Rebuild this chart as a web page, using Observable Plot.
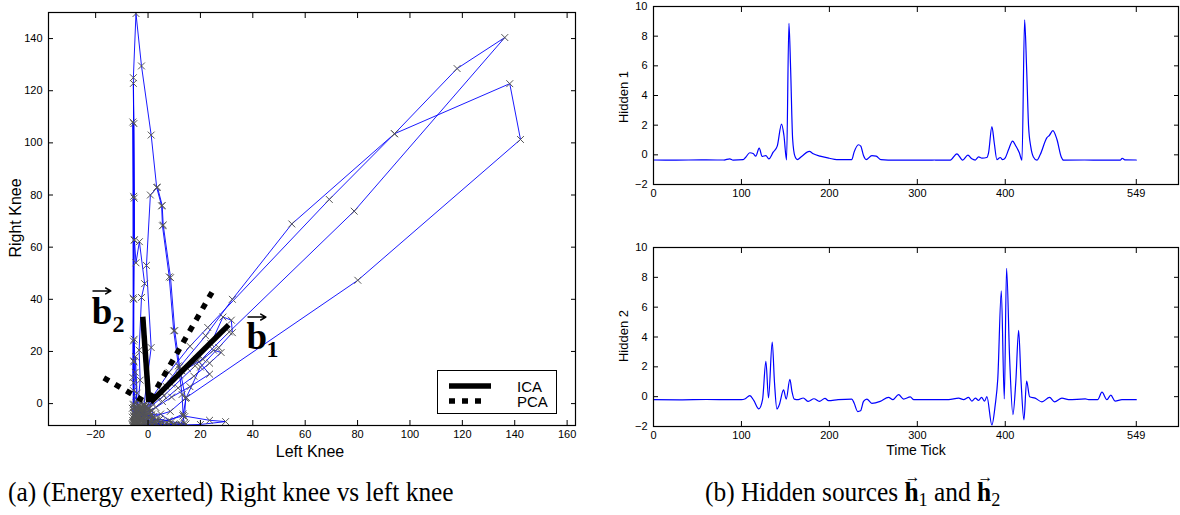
<!DOCTYPE html>
<html><head><meta charset="utf-8">
<script src="https://cdn.jsdelivr.net/npm/d3@7"></script>
<script src="https://cdn.jsdelivr.net/npm/@observablehq/plot@0.6"></script>
<style>
body{margin:0;background:#fff;}
#wrap{position:relative;width:1180px;height:515px;overflow:hidden;background:#fff;font-family:"Liberation Sans",Arial,sans-serif;color:#000;}
.abs{position:absolute;}
.lbl{position:absolute;white-space:nowrap;transform:translate(-50%,-50%);line-height:1;}
.rot{transform:translate(-50%,-50%) rotate(-90deg);}
.cap{position:absolute;font-family:"Liberation Serif","Times New Roman",serif;font-size:27px;white-space:nowrap;line-height:1;transform:scaleX(0.94);transform-origin:0 0;}
.vec{position:relative;font-weight:bold;}
.vec::before{content:"\2192";position:absolute;font-weight:normal;font-size:0.62em;left:0.02em;top:-0.5em;}
.cap sub{font-size:0.72em;vertical-align:-0.25em;line-height:0;}
</style></head>
<body><div id="wrap"></div>
<script>
// ---------- data: left panel (Left Knee, Right Knee) trajectory ----------
const restStart = [[-4.9,-7.9],[-5.2,-7.6],[-4.7,-8.1],[-5.4,-7.2],[-5.0,-6.8],[-5.6,-7.4],[-4.4,-7.7],[-5.1,-8.2],[-5.8,-6.5],[-4.6,-6.9],[-5.3,-5.9],[-3.9,-7.3]];
const restCluster = [[-6.0,-8.2],[-5.0,-8.3],[-4.0,-8.2],[-3.0,-8.1],[-2.0,-8.2],[-1.0,-8.0],[0.0,-8.1],[1.0,-8.2],[2.0,-8.0],[3.0,-8.3],[4.0,-8.1],
  [3.5,-6.3],[2.5,-6.8],[1.5,-6.5],[0.5,-6.9],[-0.5,-6.4],[-1.5,-6.8],[-2.5,-6.6],[-3.5,-6.9],[-4.5,-6.5],[-5.5,-6.8],
  [-6.0,-5.2],[-5.0,-4.9],[-4.0,-5.3],[-3.0,-4.8],[-2.0,-5.1],[-1.0,-4.7],[0.0,-5.0],[1.0,-4.6],[2.0,-5.2],
  [1.5,-2.7],[0.5,-3.0],[-0.5,-3.3],[-1.5,-2.9],[-2.5,-3.2],[-3.5,-3.5],[-4.5,-3.0],[-5.5,-3.4],
  [-6.0,-1.8],[-5.0,-1.5],[-4.0,-1.9],[-3.0,-1.4],[-2.0,-1.7],[-1.0,-1.3],[0.0,-1.6],
  [-1.5,-0.1],[-2.5,0.2],[-3.5,-0.4],[-4.5,0.3],[-5.5,-0.2],
  [-4.0,-3.8],[-2.2,-6.0],[0.8,-7.4],[5.0,-7.9],[6.5,-8.2],[8.0,-7.9],[11.0,-8.1],[12.5,-8.2],[14.5,-7.8],[9.0,-7.0],[4.5,-6.0],[-1.0,-7.5]];
const swing1 = [[-2.4,-5.6],[1.5,-4.2],[4.8,-4.0],[9.8,-7.9],[6.2,-8.0],[2.5,-7.4],[-1.2,-6.4],[-4.0,-4.8],[-5.5,-1.5],[-5.5,16.4],[-5.3,24.7],[-4.9,12.0],[-4.3,1.5],[-3.2,-3.5],[-1.0,-5.2]];
const swing2 = [[-3.5,-2.0],[-5.6,5.0],[-5.5,40.0],[-5.3,62.7],[-5.4,107.4],[-5.6,125.0],[-4.6,149.6],[-2.5,129.5],[1.2,103.0],[3.3,82.9],[5.2,75.8],[5.5,68.2],[8.1,48.6],[9.8,27.9],[11.6,14.5],[13.0,3.5],[13.4,-4.7],[13.8,-7.6],[9.5,-8.2],[5.0,-8.0],[1.0,-7.1],[-2.5,-6.0],[-4.3,-3.2]];
const swing3 = [[-5.6,-0.5],[-5.6,24.0],[-5.3,78.8],[-5.6,122.8],[-5.2,62.8],[-4.6,54.0],[-3.3,62.1],[-1.3,46.0],[-2.5,40.7],[-3.4,20.5],[-3.0,9.0],[-4.0,-2.0],[-2.2,-4.5]];
const swing4 = [[-1.6,-1.0],[1.2,21.5],[-0.6,53.0],[0.9,80.0],[3.6,83.0],[5.4,76.0],[5.8,68.5],[8.6,48.3],[10.2,28.0],[12.2,13.0],[14.3,2.0],[14.0,-5.0],[12.5,-7.8],[7.5,-7.8],[3.0,-6.2],[-0.5,-4.8],[-3.0,-6.5]];
const swing5 = [[-5.2,-4.0],[-5.8,10.0],[-5.7,40.5],[-5.8,108.0],[-5.5,79.5],[-5.4,16.0],[-5.1,-3.0]];
const loop1 = [[-2.0,-3.0],[3.5,2.0],[9.0,7.5],[15.0,13.5],[21.0,17.0],[25.0,20.5],[27.9,19.6],[23.5,15.5],[17.5,10.5],[11.5,6.0],[5.5,0.8],[0.5,-3.5],[-3.5,-5.5]];
const loop2 = [[-1.5,-2.0],[5.5,4.0],[12.0,11.0],[18.5,17.0],[24.0,23.0],[28.6,33.2],[31.8,32.0],[32.2,27.2],[27.0,21.5],[20.0,14.0],[14.6,2.3],[13.4,-4.0],[8.0,-6.5],[2.0,-6.0],[-2.8,-4.2]];
const loop3 = [[-0.8,-1.0],[7.0,6.5],[13.0,12.5],[19.0,16.5],[23.5,11.3],[16.0,6.5],[9.0,2.5],[3.0,-1.5],[-2.0,-3.8]];
const restMid = [[-4.5,-5.8],[-5.2,-6.6],[-4.8,-7.2],[-3.8,-6.0],[-5.5,-4.5],[-4.9,-3.0],[-3.3,-7.8],[-5.9,-7.9],[-5.5,8.0],[-4.8,18.0],[-4.2,4.0],[-5.0,-5.5]];
const loop4 = [[-1.0,-6.0],[5.0,-7.0],[13.4,-4.7],[23.5,-6.4],[29.6,-6.9],[20.0,-8.0],[10.0,-8.3],[3.0,-8.0],[-2.0,-7.5]];
const bigSwing1 = [[-1.0,-1.5],[8.0,12.0],[16.0,22.0],[22.8,29.2],[69.2,78.3],[94.1,103.5],[138.1,122.7],[142.2,101.3],[80.1,47.3],[14.6,2.3],[8.5,-3.0],[2.0,-5.0]];
const restLate = [[-3.0,-4.0],[-4.6,-2.2],[-5.4,-5.0],[-2.0,-1.0],[0.5,-2.0]];
const bigSwing2 = [[1.5,0.5],[12.0,14.0],[22.0,26.0],[32.2,40.0],[54.9,68.9],[94.1,103.5],[118.0,128.5],[136.2,140.4],[78.7,73.8],[31.0,27.5],[18.0,14.5],[6.0,3.0],[0.0,-2.0]];
const restEnd = [[-3.5,-4.5],[-4.8,-6.2],[-5.3,-7.0],[-4.6,-7.6],[-5.1,-8.0],[-4.2,-6.8],[-5.7,-7.3],[-4.9,-5.6],[-3.6,-7.0],[-5.0,-7.8],[-2.5,-2.5],[-1.2,-7.0],[0.5,-5.5],[-3.8,-1.0],[1.5,-7.8],[-2.8,-8.1]];

// principal directions (from origin), in data units
const icaVectors = [[0.3,0.5,-2.0,33.3],[1.0,0.5,30.8,30.2]];
const pcaVectors = [[1.0,1.8,24.7,43.2],[-2.0,1.2,-18.4,10.7]];
// vector labels: [x, y, letter, subscriptX, subscriptY, subscript, arrowX1, arrowX2, arrowY]
const vectorLabels = [[-21.5,30.6,"b",-13.6,27.6,"2",-21.0,-14.2,43.2],[37.6,20.8,"b",45.2,17.8,"1",38.2,45.0,33.2]];

const kneeXTicks = [-20,0,20,40,60,80,100,120,140,160];
const kneeYTicks = [0,20,40,60,80,100,120,140];

// ---------- data: hidden sources ----------
const tick1 = [0,20,40,60,80,86.7,90.5,101.9,104.9,109.5,113.3,116.3,120.2,123.6,127.8,131.2,136.1,140.7,145.6,148.3,151.3,154,155.9,158.2,160.8,163.5,168.4,177.2,181.7,189.4,200,208.4,225.5,228.1,233.1,235.7,238.8,241.8,248.3,253.2,258.6,275,300,320,337.5,345,351.5,357.5,362,365.9,369.7,373.5,379,381,384.8,387.5,390.5,394.3,397,400,403.8,408.3,412,416,419,422,424.3,426.5,429,432,436,439.8,447.4,450,454.2,458.7,463.7,466.3,490,510,531,533,536,549];
const hidden1 = [-0.35,-0.36,-0.35,-0.34,-0.35,-0.27,-0.35,-0.32,-0.16,0.14,0.09,-0.09,0.45,-0.11,-0.05,-0.27,0.18,0.59,2.07,1.32,-0.34,8.86,5.86,1.09,-0.09,-0.32,-0.11,0.23,0.07,-0.09,-0.23,-0.32,-0.32,0.18,0.68,0.59,-0.05,-0.32,-0.05,-0.09,-0.32,-0.36,-0.36,-0.35,-0.35,0.07,-0.35,-0.02,-0.27,-0.35,-0.14,-0.22,-0.18,0.14,1.9,0.8,-0.32,-0.18,-0.32,-0.2,0.36,0.93,0.6,0.14,-0.36,9.1,5.8,1.95,0.55,-0.14,-0.36,0.02,1.16,1.3,1.63,1.05,-0.14,-0.36,-0.35,-0.35,-0.35,-0.23,-0.34,-0.35];
const tick2 = [0,30,60,90,100,103.8,109.5,114,119.8,124,127.8,130.8,135,137.6,140.3,143,147.9,150.9,155.1,157.4,160,164.6,170.3,176,182.5,188.6,195,198.9,210,225.5,228.1,232.3,235.4,238.8,242.6,248.3,257.8,267.3,272.2,278.7,284.4,292,296,320,335.6,347,352.6,358.3,362,366,369.7,373,376.5,379.1,384.8,388.5,391.5,395.5,398.9,401.5,405,408.7,412,415.2,418,421.2,424.3,427.7,434,441.7,450.4,456,464.4,472,491,494.8,505,510,515.6,520,525,532.7,549];
const hidden2 = [-0.2,-0.21,-0.19,-0.2,-0.2,-0.16,0.07,-0.25,-0.82,-0.2,2.36,-0.09,3.66,0.93,-0.82,-0.55,0.45,-0.16,1.16,0.36,-0.16,-0.2,-0.09,-0.32,-0.14,-0.32,-0.11,-0.27,-0.2,-0.16,-0.43,-1.0,-0.95,-0.32,-0.16,-0.45,-0.32,-0.05,-0.2,0.14,-0.16,-0.02,-0.2,-0.2,-0.2,-0.1,-0.2,-0.05,-0.3,-0.1,-0.25,-0.05,-0.3,0.0,-1.9,-0.6,1.2,7.1,-0.15,8.6,2.5,-1.2,1.0,4.45,1.0,-1.55,1.05,0.0,-0.1,-0.35,-0.05,-0.35,-0.1,-0.2,-0.15,-0.2,-0.2,0.3,-0.2,0.1,-0.3,-0.2,-0.2];
const timeTicks = [0,100,200,300,400,549];
const hiddenTicks = [-2,0,2,4,6,8,10];

// ---------- build ----------
const wrap = document.getElementById("wrap");
const FONT = "Liberation Sans, Arial, Helvetica, sans-serif";
const kneePath = [...restStart,...restCluster,...swing1,...swing2,...swing3,...swing4,...swing5,...loop1,...loop2,...loop3,...restMid,...loop4,...bigSwing1,...restLate,...bigSwing2,...restEnd]
  .map(([x,y]) => ({x,y}));
const ica = icaVectors.map(([x1,y1,x2,y2]) => ({x1,y1,x2,y2}));
const pca = pcaVectors.map(([x1,y1,x2,y2]) => ({x1,y1,x2,y2}));
const labs = vectorLabels.map(([x,y,t,sx,sy,s,ax1,ax2,ay]) => ({x,y,t,sx,sy,s,ax1,ax2,ay}));

function boxAxes(xt, yt, fs) {
  return [
    Plot.axisX({anchor:"bottom", ticks:xt, tickSize:0, tickPadding:5, fontSize:fs, label:null}),
    Plot.axisY({anchor:"left", ticks:yt, tickSize:0, tickPadding:6, fontSize:fs, label:null}),
    Plot.axisX({anchor:"bottom", ticks:xt, tickSize:-5, tickFormat:()=>"", label:null}),
    Plot.axisX({anchor:"top", ticks:xt, tickSize:-5, tickFormat:()=>"", label:null}),
    Plot.axisY({anchor:"left", ticks:yt, tickSize:-5, tickFormat:()=>"", label:null}),
    Plot.axisY({anchor:"right", ticks:yt, tickSize:-5, tickFormat:()=>"", label:null}),
    Plot.frame({stroke:"#000", strokeWidth:1.2})
  ];
}

const left = Plot.plot({
  width:590, height:470, marginLeft:48, marginRight:15, marginTop:12, marginBottom:45,
  x:{domain:[-38,163.2]}, y:{domain:[-8.4,150]},
  style:{fontFamily:FONT, fontSize:"11px", background:"transparent", color:"#000", overflow:"visible"},
  marks:[
    Plot.line(kneePath,{x:"x",y:"y",stroke:"#0000ff",strokeWidth:0.9,clip:true}),
    Plot.dot(kneePath,{x:"x",y:"y",symbol:"times",r:3.2,stroke:"#555",strokeWidth:1,clip:true}),
    Plot.link(pca,{x1:"x1",y1:"y1",x2:"x2",y2:"y2",stroke:"#000",strokeWidth:5.5,strokeDasharray:"6,7"}),
    Plot.link(ica,{x1:"x1",y1:"y1",x2:"x2",y2:"y2",stroke:"#000",strokeWidth:5.5}),
    Plot.text(labs,{x:"x",y:"y",text:"t",textAnchor:"start",lineAnchor:"bottom",fontFamily:"Liberation Serif, Times New Roman, serif",fontWeight:"bold",fontSize:37,fill:"#000"}),
    Plot.text(labs,{x:"sx",y:"sy",text:"s",textAnchor:"start",lineAnchor:"bottom",fontFamily:"Liberation Serif, Times New Roman, serif",fontWeight:"bold",fontSize:24,fill:"#000"}),
    Plot.arrow(labs,{x1:"ax1",y1:"ay",x2:"ax2",y2:"ay",stroke:"#000",strokeWidth:1.5,headLength:6}),
    ...boxAxes(kneeXTicks, kneeYTicks, 11)
  ]
});
left.style.position="absolute"; left.style.left="0px"; left.style.top="0px";
wrap.appendChild(left);

function hiddenPlot(ticks, vals, top, height, mt, mb) {
  const data = ticks.map((t,i)=>({t, v: vals[i]}));
  const p = Plot.plot({
    width:590, height, marginLeft:63, marginRight:2, marginTop:mt, marginBottom:mb,
    x:{domain:[0,597]}, y:{domain:[-2,10]},
    style:{fontFamily:FONT, fontSize:"11px", background:"transparent", color:"#000", overflow:"visible"},
    marks:[
      Plot.line(data,{x:"t",y:"v",stroke:"#0000ff",strokeWidth:1.2,curve:"monotone-x"}),
      ...boxAxes(timeTicks, hiddenTicks, 11)
    ]
  });
  p.style.position="absolute"; p.style.left="590px"; p.style.top=top+"px";
  wrap.appendChild(p);
}
hiddenPlot(tick1, hidden1, 0, 200, 6, 16);
hiddenPlot(tick2, hidden2, 240, 230, 7, 44);

// axis titles, legend, captions
function label(text, x, y, size, rot) {
  const d = document.createElement("div");
  d.className = "lbl" + (rot ? " rot" : "");
  d.style.left = x+"px"; d.style.top = y+"px"; d.style.fontSize = size+"px";
  d.textContent = text; wrap.appendChild(d);
}
label("Left Knee", 310, 452, 16);
label("Right Knee", 16, 218, 16, true);
label("Hidden 1", 623, 97, 13, true);
label("Hidden 2", 623, 336, 13, true);
label("Time Tick", 916, 450, 14);

const legend = document.createElement("div");
legend.className = "abs";
legend.style.cssText = "left:437px;top:370px;width:118px;height:42px;border:1.3px solid #000;background:#fff;";
legend.innerHTML = `<svg width="118" height="42" style="display:block;font-family:${FONT}">
<line x1="11" x2="53" y1="15" y2="15" stroke="#000" stroke-width="5.5"/>
<line x1="11" x2="50" y1="30" y2="30" stroke="#000" stroke-width="5.5" stroke-dasharray="6,7"/>
<text x="79" y="20.5" font-size="15">ICA</text>
<text x="79" y="35.5" font-size="15">PCA</text></svg>`;
wrap.appendChild(legend);

const capA = document.createElement("div");
capA.className = "cap"; capA.style.left = "8px"; capA.style.top = "479px";
capA.textContent = "(a) (Energy exerted) Right knee vs left knee";
wrap.appendChild(capA);
const capB = document.createElement("div");
capB.className = "cap"; capB.style.left = "705px"; capB.style.top = "479px";
capB.innerHTML = '(b) Hidden sources <span class="vec">h</span><sub>1</sub> and <span class="vec">h</span><sub>2</sub>';
wrap.appendChild(capB);
</script></body></html>
